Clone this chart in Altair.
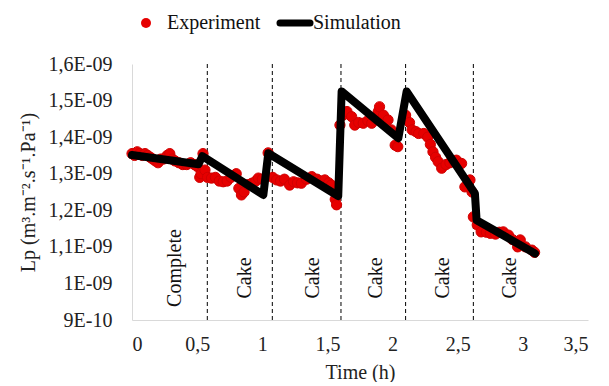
import altair as alt
import pandas as pd

# ---- Experiment data (time in h, Lp in 1e-9 m3.m-2.s-1.Pa-1) ----
exp_t = [0.0, 0.02, 0.04, 0.06, 0.08, 0.10, 0.12, 0.14, 0.16, 0.18, 0.20, 0.22, 0.24, 0.27, 0.29,
         0.31, 0.33, 0.36, 0.39, 0.42, 0.45, 0.48, 0.50, 0.52, 0.53, 0.545, 0.56,
         0.58, 0.61, 0.64, 0.67, 0.70, 0.73, 0.76, 0.80, 0.82, 0.84, 0.86, 0.89, 0.92, 0.95, 0.97, 1.00, 1.045,
         1.08, 1.11, 1.14, 1.17, 1.21, 1.24, 1.27, 1.30, 1.34, 1.38, 1.42, 1.45, 1.48, 1.51, 1.53, 1.56, 1.57,
         1.596, 1.62, 1.65, 1.686, 1.71, 1.74, 1.775, 1.81, 1.84, 1.87, 1.89, 1.90, 1.93, 1.965, 1.99, 2.02, 2.04,
         2.10, 2.13, 2.15, 2.18, 2.20, 2.24, 2.27, 2.29, 2.31, 2.33, 2.35, 2.377, 2.41, 2.44, 2.47, 2.49, 2.53,
         2.555, 2.594, 2.61,
         2.62, 2.65, 2.68, 2.72, 2.75, 2.79, 2.82, 2.85, 2.89, 2.92, 2.96, 2.98, 3.02, 3.07, 3.09]
exp_v = [1.355, 1.350, 1.360, 1.355, 1.350, 1.355, 1.350, 1.345, 1.340, 1.335, 1.330, 1.340, 1.340, 1.350, 1.355,
         1.340, 1.335, 1.330, 1.325, 1.325, 1.330, 1.325, 1.320, 1.290, 1.300, 1.355, 1.310,
         1.290, 1.288, 1.290, 1.280, 1.278, 1.280, 1.290, 1.300, 1.260, 1.242, 1.250, 1.270, 1.274, 1.280, 1.288, 1.285, 1.357,
         1.290, 1.283, 1.280, 1.285, 1.269, 1.278, 1.275, 1.274, 1.285, 1.292, 1.285, 1.280, 1.283, 1.275, 1.269, 1.230, 1.215,
         1.433, 1.460, 1.470, 1.456, 1.433, 1.440, 1.438, 1.445, 1.438, 1.450, 1.470, 1.483, 1.460, 1.447, 1.420, 1.378, 1.374,
         1.460, 1.440, 1.420, 1.415, 1.410, 1.410, 1.400, 1.380, 1.360, 1.345, 1.333, 1.315, 1.325, 1.330, 1.335, 1.337, 1.328,
         1.264, 1.283, 1.250,
         1.182, 1.160, 1.141, 1.140, 1.137, 1.135, 1.140, 1.141, 1.132, 1.120, 1.100, 1.119, 1.100, 1.091, 1.085]

# ---- Simulation polyline ----
sim_t = [0.0, 0.51, 0.54, 1.008, 1.046, 1.583, 1.609, 2.044, 2.108, 2.632, 2.645, 3.093]
sim_v = [1.351, 1.326, 1.348, 1.242, 1.356, 1.239, 1.525, 1.397, 1.525, 1.246, 1.173, 1.082]

# ---- Phase boundaries and labels ----
bound_t = [0.578, 1.077, 1.604, 2.10, 2.62]
phase_t = [0.33, 0.87, 1.39, 1.87, 2.39, 2.90]
phase_v = [1.042, 1.015, 1.015, 1.015, 1.015, 1.015]
phase_lab = ["Complete", "Cake", "Cake", "Cake", "Cake", "Cake"]

y_ticks = [0.9, 1.0, 1.1, 1.2, 1.3, 1.4, 1.5, 1.6]
y_tick_labels = ["9E-10", "1E-09", "1,1E-09", "1,2E-09", "1,3E-09", "1,4E-09", "1,5E-09", "1,6E-09"]
x_ticks = [0, 0.5, 1, 1.5, 2, 2.5, 3, 3.5]

E = 1e-9
df_exp = pd.DataFrame({"t": exp_t, "v": [v * E for v in exp_v]})
df_sim = pd.DataFrame({"t": sim_t, "v": [v * E for v in sim_v], "i": list(range(len(sim_t)))})
df_b = pd.DataFrame({"t": bound_t, "y1": [0.9 * E] * len(bound_t), "y2": [1.605 * E] * len(bound_t)})
df_p = pd.DataFrame({"t": phase_t, "v": [v * E for v in phase_v], "lab": phase_lab})

FONT = "Liberation Serif"
ylab_expr = "[" + ",".join("'%s'" % s for s in y_tick_labels) + "][round(datum.value*1e10)-9]"

xs = alt.Scale(domain=[0, 3.5], nice=False, zero=False)
ys = alt.Scale(domain=[0.9 * E, 1.6 * E], nice=False, zero=False)

x_axis = alt.Axis(values=x_ticks, labelExpr="replace(toString(datum.value), '.', ',')",
                  grid=False, ticks=False, domainColor="#d9d9d9", labelPadding=14,
                  labelOverlap=False, title="Time (h)", titlePadding=8)
y_axis = alt.Axis(values=[v * E for v in y_ticks], labelExpr=ylab_expr, grid=False, ticks=False,
                  domainColor="#d9d9d9", labelPadding=20, labelOverlap=False,
                  title="Lp (m³.m⁻².s⁻¹.Pa⁻¹)", titlePadding=10)

bounds = alt.Chart(df_b).mark_rule(color="black", strokeDash=[4, 3], strokeWidth=1).encode(
    x=alt.X("t:Q", scale=xs, axis=x_axis),
    y=alt.Y("y1:Q", scale=ys, axis=y_axis),
    y2="y2:Q",
)

points = alt.Chart(df_exp).mark_point(filled=True, shape="circle", size=105, color="#e60000",
                                      opacity=1, stroke="#d00000", strokeWidth=1).encode(
    x=alt.X("t:Q", scale=xs, axis=x_axis), y=alt.Y("v:Q", scale=ys, axis=y_axis))

line = alt.Chart(df_sim).mark_line(color="black", strokeWidth=8, strokeCap="round",
                                   strokeJoin="round").encode(
    x=alt.X("t:Q", scale=xs, axis=x_axis), y=alt.Y("v:Q", scale=ys, axis=y_axis), order="i:Q")

labels = alt.Chart(df_p).mark_text(angle=270, font=FONT, fontSize=20, color="#111",
                                   align="center", baseline="middle").encode(
    x=alt.X("t:Q", scale=xs, axis=x_axis), y=alt.Y("v:Q", scale=ys, axis=y_axis), text="lab:N")

one = alt.Data(values=[{"a": 1}])
leg_pt = alt.Chart(one).mark_point(filled=True, shape="circle", size=100, color="#e60000",
                                   opacity=1).encode(x=alt.value(14), y=alt.value(-41))
leg_t1 = alt.Chart(one).mark_text(font=FONT, fontSize=20, align="left", baseline="middle",
                                  color="#111", text="Experiment").encode(x=alt.value(35), y=alt.value(-41))
leg_ln = alt.Chart(one).mark_rule(color="black", strokeWidth=7, strokeCap="round").encode(
    x=alt.value(148), x2=alt.value(178), y=alt.value(-41))
leg_t2 = alt.Chart(one).mark_text(font=FONT, fontSize=20, align="left", baseline="middle",
                                  color="#111", text="Simulation").encode(x=alt.value(181), y=alt.value(-41))

chart = alt.layer(bounds, points, line, labels, leg_pt, leg_t1, leg_ln, leg_t2).properties(
    width=456, height=256,
    autosize=alt.AutoSizeParams(type="none"),
    padding={"left": 124, "top": 56, "right": 13, "bottom": 62},
    background="white",
).configure_view(stroke=None).configure_axis(
    labelFont=FONT, labelFontSize=20, labelColor="#222", labelOverlap=False,
    titleFont=FONT, titleFontSize=20, titleFontWeight="normal", titleColor="#222",
)

chart.save("out.html", embed_options={"renderer": "svg", "actions": False})
